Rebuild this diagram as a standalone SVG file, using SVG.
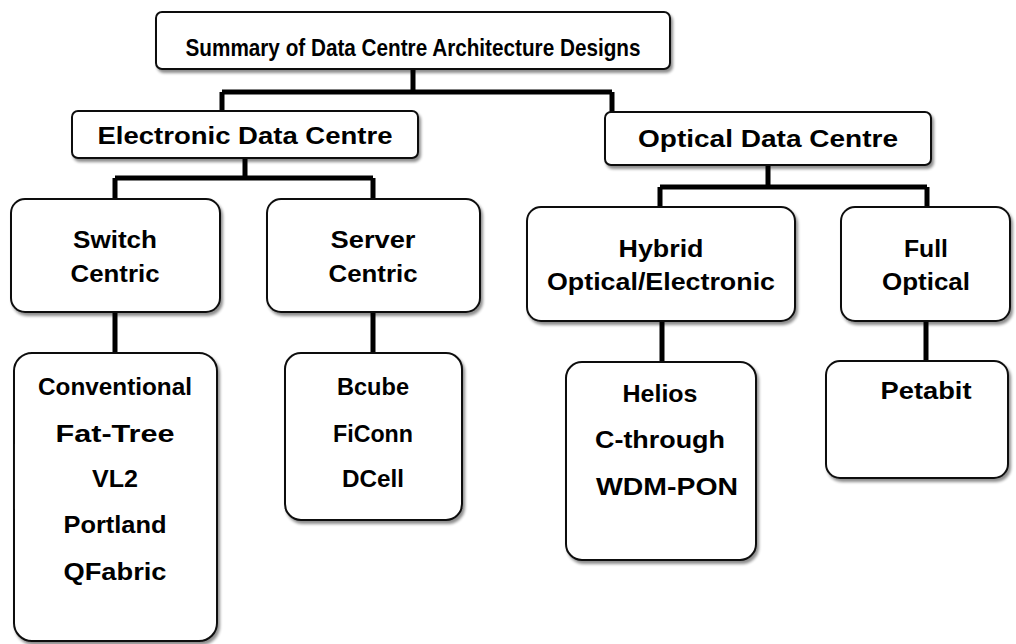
<svg xmlns="http://www.w3.org/2000/svg" width="1016" height="644" viewBox="0 0 1016 644">
  <defs>
    <filter id="shadow" x="-10%" y="-10%" width="125%" height="130%">
      <feGaussianBlur in="SourceAlpha" stdDeviation="1.5"/>
      <feOffset dx="1.5" dy="2.5" result="b"/>
      <feComponentTransfer><feFuncA type="linear" slope="0.45"/></feComponentTransfer>
      <feMerge><feMergeNode/><feMergeNode in="SourceGraphic"/></feMerge>
    </filter>
  </defs>
  <style>
    .box { fill: #ffffff; stroke: #111111; stroke-width: 2; filter: url(#shadow); }
    .lbl { font-family: "Liberation Sans", "DejaVu Sans", sans-serif; font-weight: bold; font-size: 24px; fill: #000000; text-anchor: middle; }
    .wire { fill: none; stroke: #000000; stroke-width: 5; stroke-linejoin: miter; stroke-linecap: butt; }
  </style>
  <rect width="1016" height="644" fill="#ffffff"/>

  <!-- connectors -->
  <g id="connectors">
    <path class="wire" d="M413 69 V92 M222 92 H612 M222 92 V111 M612 92 V112"/>
    <path class="wire" d="M245 158 V178 M115 178 H373 M115 178 V199 M373 178 V199"/>
    <path class="wire" d="M768 165 V187 M660 187 H927 M660 187 V207 M927 187 V207"/>
    <path class="wire" d="M115 312 V353 M373 312 V353"/>
    <path class="wire" d="M662 321 V362 M926 321 V361"/>
  </g>

  <!-- root -->
  <g id="summary">
    <rect class="box" x="156" y="12" width="514" height="57" rx="6"/>
    <text class="lbl" x="413" y="56" textLength="455" lengthAdjust="spacingAndGlyphs">Summary of Data Centre Architecture Designs</text>
  </g>

  <!-- second level -->
  <g id="electronic">
    <rect class="box" x="72" y="111" width="346" height="47" rx="6"/>
    <text class="lbl" x="245" y="144" textLength="295" lengthAdjust="spacingAndGlyphs">Electronic Data Centre</text>
  </g>
  <g id="optical">
    <rect class="box" x="605" y="112" width="326" height="53" rx="6"/>
    <text class="lbl" x="768" y="147" textLength="260" lengthAdjust="spacingAndGlyphs">Optical Data Centre</text>
  </g>

  <!-- third level -->
  <g id="switch-centric">
    <rect class="box" x="11" y="199" width="209" height="113" rx="14"/>
    <text class="lbl" x="115" y="248" textLength="84" lengthAdjust="spacingAndGlyphs">Switch</text>
    <text class="lbl" x="115" y="282" textLength="89" lengthAdjust="spacingAndGlyphs">Centric</text>
  </g>
  <g id="server-centric">
    <rect class="box" x="267" y="199" width="213" height="113" rx="14"/>
    <text class="lbl" x="373" y="248" textLength="85" lengthAdjust="spacingAndGlyphs">Server</text>
    <text class="lbl" x="373" y="282" textLength="89" lengthAdjust="spacingAndGlyphs">Centric</text>
  </g>
  <g id="hybrid">
    <rect class="box" x="527" y="207" width="268" height="114" rx="14"/>
    <text class="lbl" x="661" y="257" textLength="85" lengthAdjust="spacingAndGlyphs">Hybrid</text>
    <text class="lbl" x="661" y="290" textLength="228" lengthAdjust="spacingAndGlyphs">Optical/Electronic</text>
  </g>
  <g id="full-optical">
    <rect class="box" x="841" y="207" width="169" height="114" rx="14"/>
    <text class="lbl" x="926" y="257" textLength="44" lengthAdjust="spacingAndGlyphs">Full</text>
    <text class="lbl" x="926" y="290" textLength="88" lengthAdjust="spacingAndGlyphs">Optical</text>
  </g>

  <!-- leaf lists -->
  <g id="switch-list">
    <rect class="box" x="14" y="353" width="203" height="288" rx="18"/>
    <text class="lbl" x="115" y="395" textLength="154" lengthAdjust="spacingAndGlyphs">Conventional</text>
    <text class="lbl" x="115" y="442" textLength="119" lengthAdjust="spacingAndGlyphs">Fat-Tree</text>
    <text class="lbl" x="115" y="487" textLength="46" lengthAdjust="spacingAndGlyphs">VL2</text>
    <text class="lbl" x="115" y="533" textLength="103" lengthAdjust="spacingAndGlyphs">Portland</text>
    <text class="lbl" x="115" y="580" textLength="103" lengthAdjust="spacingAndGlyphs">QFabric</text>
  </g>
  <g id="server-list">
    <rect class="box" x="285" y="353" width="177" height="167" rx="16"/>
    <text class="lbl" x="373" y="395" textLength="72" lengthAdjust="spacingAndGlyphs">Bcube</text>
    <text class="lbl" x="373" y="442" textLength="80" lengthAdjust="spacingAndGlyphs">FiConn</text>
    <text class="lbl" x="373" y="487" textLength="62" lengthAdjust="spacingAndGlyphs">DCell</text>
  </g>
  <g id="hybrid-list">
    <rect class="box" x="566" y="362" width="190" height="198" rx="16"/>
    <text class="lbl" x="660" y="402" textLength="75" lengthAdjust="spacingAndGlyphs">Helios</text>
    <text class="lbl" x="660" y="448" textLength="130" lengthAdjust="spacingAndGlyphs">C-through</text>
    <text class="lbl" x="667" y="495" textLength="142" lengthAdjust="spacingAndGlyphs">WDM-PON</text>
  </g>
  <g id="optical-list">
    <rect class="box" x="826" y="361" width="182" height="117" rx="14"/>
    <text class="lbl" x="926" y="399" textLength="91" lengthAdjust="spacingAndGlyphs">Petabit</text>
  </g>
</svg>
